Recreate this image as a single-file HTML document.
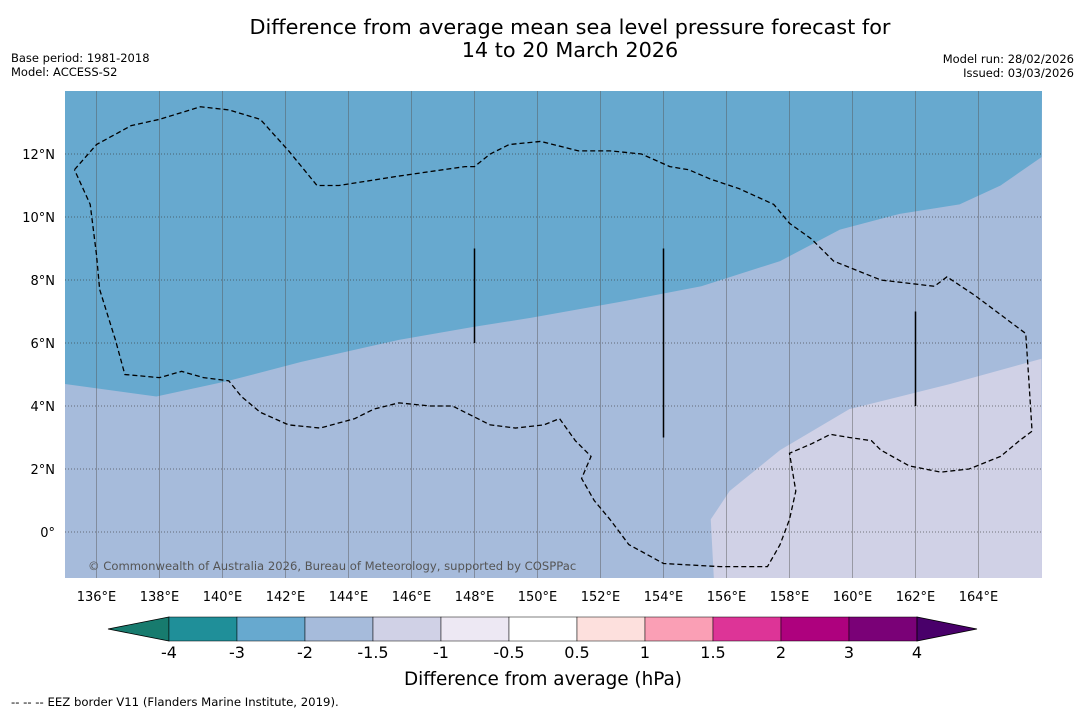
<!DOCTYPE html>
<html><head><meta charset="utf-8"><style>
body{margin:0;background:#fff;width:1085px;height:713px;overflow:hidden;font-family:"Liberation Sans","DejaVu Sans",sans-serif}
</style></head><body>
<svg id="s" width="1085" height="713" xmlns="http://www.w3.org/2000/svg" style="font-family:'DejaVu Sans','Liberation Sans',sans-serif">
<text x="570" y="34" text-anchor="middle" font-size="20.8">Difference from average mean sea level pressure forecast for</text>
<text x="570" y="57" text-anchor="middle" font-size="20.8">14 to 20 March 2026</text>
<text x="11" y="62" font-size="11.5">Base period: 1981-2018</text>
<text x="11" y="76" font-size="11.5">Model: ACCESS-S2</text>
<text x="1074" y="63" font-size="11.5" text-anchor="end">Model run: 28/02/2026</text>
<text x="1074" y="77" font-size="11.5" text-anchor="end">Issued: 03/03/2026</text>
<defs><clipPath id="mc"><rect x="65" y="91" width="977" height="487"/></clipPath></defs>
<g id="map" clip-path="url(#mc)"></g>
<g id="ticks"></g>
<g id="cbar"></g>
<text x="543" y="685" text-anchor="middle" font-size="18.4">Difference from average (hPa)</text>
<text x="11" y="706" font-size="11.7">--  --  -- EEZ border V11 (Flanders Marine Institute, 2019).</text>
</svg>
<script>
const lonTicks=[136,138,140,142,144,146,148,150,152,154,156,158,160,162,164];
const latTicks=[0,2,4,6,8,10,12];
const cbLevels=["-4","-3","-2","-1.5","-1","-0.5","0.5","1","1.5","2","3","4"];
const cbColors=["#1f8f99","#67a9cf","#a6bbdb","#d0d1e6","#ede8f3","#ffffff","#fde0dd","#fa9fb5","#dd3497","#ae017e","#7a0177"];
const blueEdgeLon=[135,137.9,140.2,142.5,145.6,147.9,149.8,152.6,155.2,157.7,159.6,161.5,163.4,164.7,166];
const blueEdgeLat=[4.7,4.3,4.8,5.4,6.1,6.5,6.8,7.3,7.8,8.6,9.6,10.1,10.4,11.0,11.9];
const lightEdgeLon=[155.6,155.5,156.1,157.7,159.9,163.1,166];
const lightEdgeLat=[-1.5,0.4,1.3,2.6,3.9,4.7,5.5];
const eezLon=[135.3,136.0,137.1,138.0,139.3,140.2,141.2,142.1,143.0,143.7,145.6,147.7,148.0,148.5,149.1,150.1,151.3,152.3,153.3,154.2,154.8,155.5,156.4,157.5,158.0,158.7,159.4,160.9,162.6,163.0,163.9,164.7,165.5,165.6,165.7,165.3,164.7,163.7,162.8,161.8,160.9,160.6,159.9,159.3,158.7,158.0,158.2,158.0,157.7,157.3,155.8,154.0,152.9,152.3,151.8,151.4,151.7,151.2,150.7,150.2,149.3,148.5,147.9,147.3,146.6,145.6,144.8,144.2,143.1,142.1,141.2,140.6,140.2,139.4,138.7,138.0,136.9,136.6,136.1,136.0,135.8,135.3];
const eezLat=[11.5,12.3,12.9,13.1,13.5,13.4,13.1,12.1,11.0,11.0,11.3,11.6,11.6,12.0,12.3,12.4,12.1,12.1,12.0,11.6,11.5,11.2,10.9,10.4,9.8,9.3,8.6,8.0,7.8,8.1,7.5,6.9,6.3,4.8,3.2,2.9,2.4,2.0,1.9,2.1,2.6,2.9,3.0,3.1,2.8,2.5,1.3,0.4,-0.4,-1.1,-1.1,-1.0,-0.4,0.4,1.0,1.7,2.4,2.9,3.6,3.4,3.3,3.4,3.7,4.0,4.0,4.1,3.9,3.6,3.3,3.4,3.8,4.3,4.8,4.9,5.1,4.9,5.0,6.1,7.7,8.8,10.4,11.5];
const segLon=[148,154,162];
const segLat0=[9,9,7];
const segLat1=[6,3,4];
const NS="http://www.w3.org/2000/svg";
const X=lon=>65+(lon-135)*31.5, Y=lat=>91+(14-lat)*31.5;
function mk(t,a,p){const e=document.createElementNS(NS,t);for(const k in a)e.setAttribute(k,a[k]);(p||document.getElementById('s')).appendChild(e);return e;}
const map=document.getElementById('map');
let r=mk('rect',{x:65,y:91,width:977,height:487,fill:'#a6bbdb'},map);


let d='M65,91 '+blueEdgeLon.map((l,i)=>'L'+X(l)+','+Y(blueEdgeLat[i])).join(' ')+' L1042,91Z';
let p=mk('path',{d:d,fill:'#67a9cf'},map);


d='M'+lightEdgeLon.map((l,i)=>X(l)+','+Y(lightEdgeLat[i])).join(' L')+' L1042,578Z';
p=mk('path',{d:d,fill:'#d0d1e6'},map);


lonTicks.forEach(l=>{const e=mk('line',{x1:X(l),x2:X(l),y1:91,y2:578,stroke:'#555','stroke-opacity':0.45,'stroke-width':1},map);

});
latTicks.forEach(l=>{const e=mk('line',{x1:65,x2:1042,y1:Y(l),y2:Y(l),stroke:'#333','stroke-dasharray':'1,2','stroke-opacity':0.6},map);

});
p=mk('path',{d:'M'+eezLon.map((l,i)=>X(l)+','+Y(eezLat[i])).join(' L'),fill:'none',stroke:'#000','stroke-width':1.3,'stroke-dasharray':'5,3'},map);


segLon.forEach((l,i)=>{const e=mk('line',{x1:X(l),x2:X(l),y1:Y(segLat0[i]),y2:Y(segLat1[i]),stroke:'#000','stroke-width':1.5},map);

});
let t=mk('text',{x:88,y:570,'font-size':11.6,fill:'#555'},map);t.textContent='© Commonwealth of Australia 2026, Bureau of Meteorology, supported by COSPPac';


const tk=document.getElementById('ticks');
lonTicks.forEach(l=>{const e=mk('text',{x:X(l),y:601,'font-size':13,'text-anchor':'middle'},tk);e.textContent=l+'°E';

});
latTicks.forEach(l=>{const e=mk('text',{x:55,y:Y(l)+5,'font-size':13,'text-anchor':'end'},tk);e.textContent=l===0?'0°':l+'°N';

});
const cb=document.getElementById('cbar');
const bx0=169,bw=68,by=617,bh=24;
let tri=mk('polygon',{points:`108,${by+bh/2} ${bx0},${by} ${bx0},${by+bh}`,fill:'#177b6e',stroke:'#000','stroke-width':0.8},cb);


cbColors.forEach((c,i)=>{const e=mk('rect',{x:bx0+i*bw,y:by,width:bw,height:bh,fill:c,stroke:'#000','stroke-width':0.5},cb);

});
const xe=bx0+cbColors.length*bw;
tri=mk('polygon',{points:`${xe},${by} ${xe},${by+bh} 977,${by+bh/2}`,fill:'#49006a',stroke:'#000','stroke-width':0.8},cb);


cbLevels.forEach((v,i)=>{const e=mk('text',{x:bx0+i*bw,y:658,'font-size':16,'text-anchor':'middle'},cb);e.textContent=v;

});
</script>
</body></html>
